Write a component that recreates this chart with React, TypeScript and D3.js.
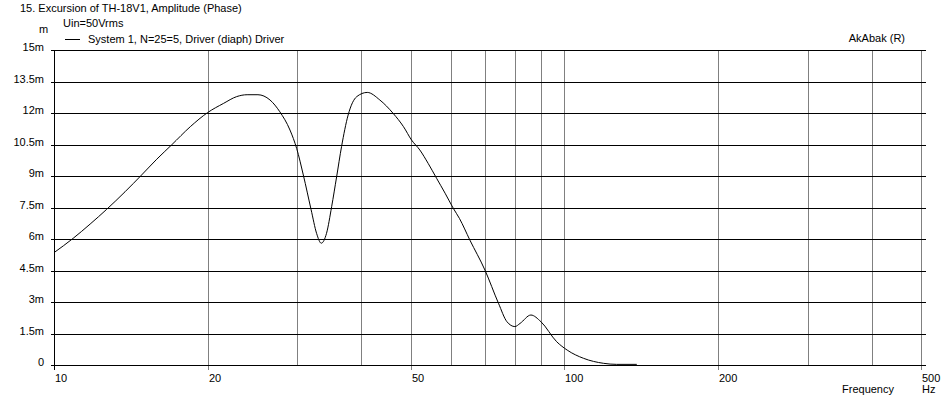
import * as d3 from 'd3';

// Excursion curve: [frequency Hz, excursion mm]
const excursion: [number, number][] = [
  [10, 5.35], [10.9, 6.03], [11.77, 6.71], [12.68, 7.41], [13.78, 8.25], [14.85, 9.05],
  [15.9, 9.8], [17.0, 10.48], [18.5, 11.35], [20.0, 12.02], [21.5, 12.46],
  [22.8, 12.78], [23.9, 12.87], [25.1, 12.87], [26.5, 12.62], [27.7, 12.06],
  [29.0, 11.19], [29.9, 10.3], [30.8, 9.05], [31.9, 7.4], [32.7, 6.27], [33.4, 5.8],
  [34.2, 6.27], [35.0, 7.54], [35.8, 8.97], [36.6, 10.4], [37.7, 11.9], [39.2, 12.78],
  [41.1, 12.98], [43.5, 12.62], [46.2, 11.98], [48.4, 11.35], [50.2, 10.71], [52.1, 10.24],
  [54.1, 9.6], [56.2, 8.89], [58.4, 8.18], [60.6, 7.46], [62.3, 6.98],
  [65.3, 5.95], [69.9, 4.52], [74.3, 2.94], [77.2, 2.06], [80, 1.83], [81.9, 1.98],
  [86, 2.38], [90, 2.06], [96.6, 1.11], [101.3, 0.71], [109, 0.32], [119.4, 0.08],
  [126.6, 0.03], [138.7, 0.03],
];

const yTicks = [0, 1.5, 3, 4.5, 6, 7.5, 9, 10.5, 12, 13.5, 15];
const yTickLabels = ['0', '1.5m', '3m', '4.5m', '6m', '7.5m', '9m', '10.5m', '12m', '13.5m', '15m'];
const xGrid = [20, 30, 40, 50, 60, 70, 80, 90, 100, 200, 300, 400, 500];
const xLabeled = [10, 20, 50, 100, 200, 500];

const title = '15. Excursion of TH-18V1, Amplitude (Phase)';
const subtitle = 'Uin=50Vrms';
const legendLabel = 'System 1, N=25=5, Driver (diaph) Driver';

const W = 947;
const H = 402;
const margin = { left: 54, right: 26, top: 50, bottom: 37 };
const font = '"Liberation Sans", Arial, sans-serif';

export default function App() {
  const x = d3.scaleLog().domain([10, 500]).range([margin.left, W - margin.right]);
  const y = d3.scaleLinear().domain([0, 15]).range([H - margin.bottom, margin.top]);
  const px = (v: number) => Math.round(v) + 0.5;
  const x0 = px(x(10));
  const yb = px(y(0));
  const yt = px(y(15));

  const line = d3
    .line<[number, number]>()
    .x((d) => x(d[0]))
    .y((d) => y(d[1]))
    .curve(d3.curveMonotoneX);

  return (
    <svg
      width={W}
      height={H}
      style={{ position: 'absolute', left: 0, top: 0, background: '#fff' }}
      fontFamily={font}
      fontSize={11}
    >
      <rect width={W} height={H} fill="#fff" />

      {/* vertical grid */}
      {xGrid.map((f) => (
        <line key={f} x1={px(x(f))} x2={px(x(f))} y1={yt} y2={yb} stroke="#808080" shapeRendering="crispEdges" />
      ))}
      {/* horizontal grid */}
      {yTicks.map((v) => (
        <line key={v} x1={x0 - 4} x2={px(x(500)) + 4} y1={px(y(v))} y2={px(y(v))} stroke="#000" shapeRendering="crispEdges" />
      ))}
      {/* left axis */}
      <line x1={x0} x2={x0} y1={yt} y2={yb + 4} stroke="#000" shapeRendering="crispEdges" />
      {/* x ticks at labeled frequencies */}
      {xLabeled.map((f) => (
        <line key={f} x1={px(x(f))} x2={px(x(f))} y1={yb} y2={yb + 4} stroke={f === 10 ? '#000' : '#808080'} shapeRendering="crispEdges" />
      ))}

      <path d={line(excursion) ?? ''} fill="none" stroke="#000" strokeWidth={1} />

      {/* y labels */}
      {yTicks.map((v, i) => (
        <text key={v} x={44} y={Math.round(y(v)) + 1} textAnchor="end">
          {yTickLabels[i]}
        </text>
      ))}
      {/* x labels */}
      {xLabeled.map((f) => (
        <text key={f} x={Math.round(x(f)) + 1} y={382}>
          {f}
        </text>
      ))}

      <text x={20} y={12}>{title}</text>
      <text x={63} y={27}>{subtitle}</text>
      <text x={39} y={33}>m</text>
      <line x1={65} x2={80} y1={39.5} y2={39.5} stroke="#000" />
      <text x={88} y={43}>{legendLabel}</text>
      <text x={905} y={42} textAnchor="end">AkAbak (R)</text>
      <text x={894} y={393} textAnchor="end">Frequency</text>
      <text x={922} y={393}>Hz</text>
    </svg>
  );
}
